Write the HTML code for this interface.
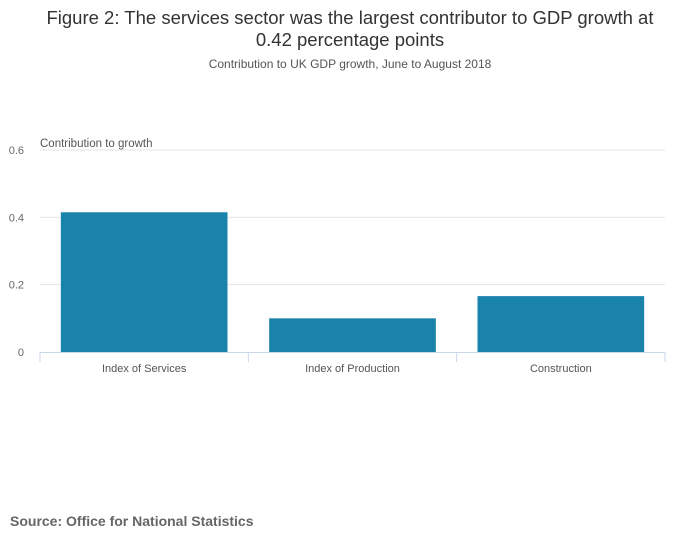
<!DOCTYPE html>
<html><head><meta charset="utf-8"><style>
body{margin:0;background:#fff;font-family:"Liberation Sans",sans-serif;}
svg text{font-family:"Liberation Sans",sans-serif;}
</style></head><body>
<svg width="700" height="549">
<text x="350" y="24" text-anchor="middle" font-size="18.5" fill="#333">Figure 2: The services sector was the largest contributor to GDP growth at</text>
<text x="350" y="46" text-anchor="middle" font-size="18.5" fill="#333">0.42 percentage points</text>
<text x="350" y="68" text-anchor="middle" font-size="12" fill="#555">Contribution to UK GDP growth, June to August 2018</text>
<g id="grid"></g><g id="bars"></g><g id="axis"></g>
<text x="40" y="147" font-size="11.5" fill="#555">Contribution to growth</text>
<text x="10" y="526" font-size="14" font-weight="bold" fill="#666">Source: Office for National Statistics</text>
</svg>
<script>
const categories=["Index of Services","Index of Production","Construction"];
const values=[0.415,0.1,0.166];
const ticks=[0,0.2,0.4,0.6];
const tickLabels=["0","0.2","0.4","0.6"];
const NS="http://www.w3.org/2000/svg";
const x0=40,x1=665,yb=352,yt=150,ymax=0.6;
const y=v=>yb-(yb-yt)*v/ymax;
const bw=(x1-x0)/categories.length;
function mk(t,a,p){const e=document.createElementNS(NS,t);for(const k in a)e.setAttribute(k,a[k]);p.appendChild(e);return e;}
const g=document.getElementById('grid'),b=document.getElementById('bars'),ax=document.getElementById('axis');
ticks.forEach((t,i)=>{
 if(t>0){const l=mk('line',{x1:x0,x2:x1,y1:y(t),y2:y(t),stroke:'#e6e6e6'},g);
 
 }
 const tx=mk('text',{x:24,y:y(t)+4,'text-anchor':'end','font-size':11,fill:'#666'},g);tx.textContent=tickLabels[i];
 
 
});
categories.forEach((c,i)=>{
 const r=mk('rect',{x:x0+bw*i+bw*0.1,y:y(values[i]),width:bw*0.8,height:yb-y(values[i]),fill:'#1a83ab'},b);
 
 
 const t=mk('text',{x:x0+bw*(i+0.5),y:372,'text-anchor':'middle','font-size':11,fill:'#555'},ax);t.textContent=c;
 
 
});
const al=mk('line',{x1:x0,x2:x1,y1:yb+0.5,y2:yb+0.5,stroke:'#ccd6eb'},ax);


for(let i=0;i<=categories.length;i++){const tk=mk('line',{x1:x0+bw*i,x2:x0+bw*i,y1:yb,y2:yb+10,stroke:'#ccd6eb'},ax);
 
 }
</script>
</body></html>
